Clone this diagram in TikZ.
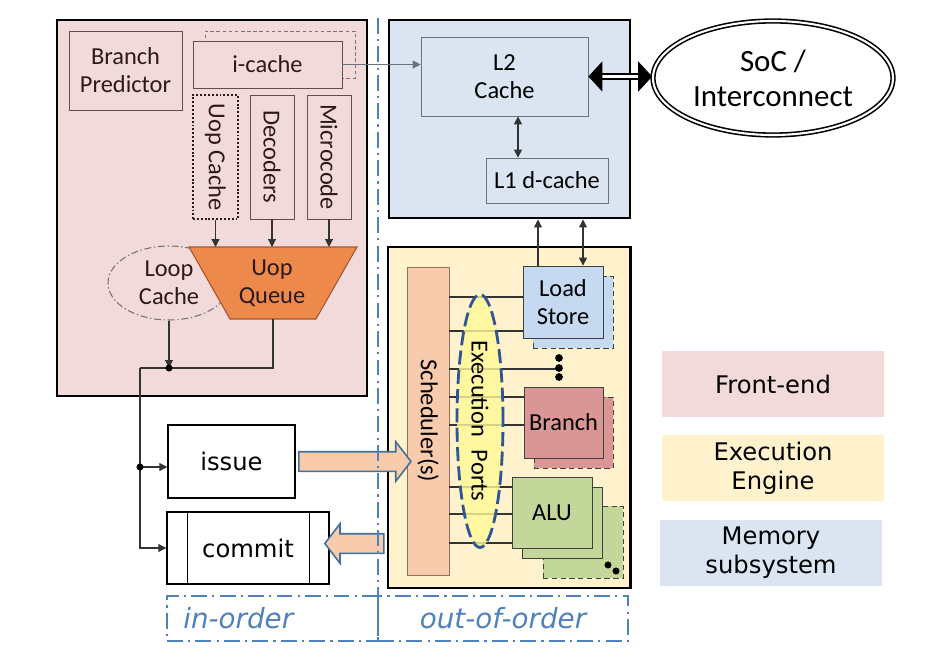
\documentclass[tikz,border=0pt]{standalone}
\usepackage{fontspec}
\setmainfont{Carlito}
\newfontfamily\verd{DejaVu Sans}[ItalicFont={DejaVu Sans Oblique}]
\usepackage{graphicx}
\usepackage{tikz}
\usetikzlibrary{arrows.meta,shapes.geometric,shapes.arrows,calc}
\definecolor{FrontPink}{RGB}{242,218,218}
\definecolor{ExecYellow}{RGB}{255,242,204}
\definecolor{MemBlue}{RGB}{219,229,241}
\definecolor{QueueOrange}{RGB}{237,137,74}
\definecolor{QueueEdge}{RGB}{165,85,45}
\definecolor{SchedPeach}{RGB}{248,203,173}
\definecolor{SchedEdge}{RGB}{150,110,90}
\definecolor{PortYellow}{RGB}{255,250,150}
\definecolor{PortBlue}{RGB}{47,85,151}
\definecolor{LoadBlue}{RGB}{197,217,241}
\definecolor{BranchRed}{RGB}{218,150,148}
\definecolor{AluGreen}{RGB}{196,215,155}
\definecolor{OrderBlue}{RGB}{79,129,189}
\definecolor{FrontLine}{RGB}{105,75,75}
\definecolor{FrontText}{RGB}{45,25,25}
\definecolor{MemLine}{RGB}{105,115,128}
\definecolor{ArrowEdge}{RGB}{65,113,156}

\begin{document}
\begin{tikzpicture}[x=0.02cm,y=-0.02cm,>={Triangle[length=4.5pt,width=4.5pt]},
  wh/.style 2 args={minimum width=#1*0.02cm,minimum height=#2*0.02cm},
  ftext/.style={font=\fontsize{13.9}{15.9}\selectfont},
  vtext/.style={font=\verd\fontsize{13.8}{16.5}\selectfont},
  region/.style={draw=black,line width=1.7pt,inner sep=0pt},
  fbox/.style={draw=FrontLine,fill=FrontPink,align=center,inner sep=0pt,text=FrontText,ftext},
  mbox/.style={draw=MemLine,fill=MemBlue,align=center,inner sep=0pt,ftext},
  exunit/.style={draw=black!75,align=center,inner sep=0pt,ftext},
  backcopy/.style={exunit,dash pattern=on 3pt off 2pt},
  wire/.style={draw=black!80,line width=0.6pt},
  fat/.style={single arrow,draw=ArrowEdge,fill=SchedPeach,line width=0.9pt,inner xsep=0pt,inner ysep=0.18cm,
    single arrow head extend=0.2cm,single arrow tip angle=105},
  orderline/.style={draw=OrderBlue,line width=1pt,dash pattern=on 9pt off 3pt on 1.2pt off 3pt},
  ordertext/.style={text=OrderBlue,font=\verd\itshape\fontsize{15.8}{18}\selectfont},
  leg/.style={align=center,inner sep=0pt,vtext}]
  \useasboundingbox (0,0) rectangle (930,669);

  \node[region,fill=FrontPink,wh={310}{376}] (fe) at (212,208) {};
  \node[region,fill=MemBlue,wh={241}{198}] (mem) at (509.5,119) {};
  \node[region,fill=ExecYellow,wh={242}{341}] (exe) at (509,417.5) {};

  \node[fbox,wh={113}{79}] (bp) at (125.5,70.5) {Branch\\Predictor};
  \node[draw=FrontLine!80,dash pattern=on 2pt off 1.5pt,wh={150}{47}] (icshadow) at (280,54.5) {};
  \node[fbox,wh={149}{47}] (icache) at (267.5,64.5) {i-cache};
  \node[fbox,draw=FrontText,line width=1.1pt,dash pattern=on 1.1pt off 1.1pt,wh={45}{124}] (uopc) at (215.5,157) {\rotatebox{-90}{Uop Cache}};
  \node[fbox,wh={44}{124}] (dec) at (272,157) {\rotatebox{-90}{Decoders}};
  \node[fbox,wh={44}{124}] (mcode) at (329,157) {\rotatebox{-90}{Microcode}};

  \node[ellipse,draw=black!55,line width=0.6pt,dash pattern=on 4pt off 1.5pt on 0.8pt off 1.5pt,
    wh={122}{74},inner sep=0pt,align=center,text=FrontText,ftext] (loop) at (169,283) {Loop\\Cache};
  \coordinate (qa) at (189,247);
  \coordinate (qb) at (357,247);
  \coordinate (qc) at (316,319);
  \coordinate (qd) at (230,319);
  \draw[fill=QueueOrange,draw=QueueEdge,line width=0.6pt] (qa) -- (qb) -- (qc) -- (qd) -- cycle;
  \node[align=center,text=FrontText,ftext] (uopq) at (272,283) {Uop\\Queue};
  \foreach \src in {uopc,dec,mcode}
    \draw[wire,->] (\src.south) -- (\src.south |- qa);

  \node[draw,line width=0.8pt,wh={127}{73},vtext] (issue) at (231.5,461.5) {issue};
  \node[draw,line width=0.8pt,wh={162}{72},vtext] (commit) at (248,548) {commit};
  \draw[line width=0.8pt] ([xshift=0.42cm]commit.north west) -- ([xshift=0.42cm]commit.south west);
  \draw[line width=0.8pt] ([xshift=-0.4cm]commit.north east) -- ([xshift=-0.4cm]commit.south east);

  \coordinate (qbot) at ($(qd)!0.5!(qc)$);
  \coordinate (trunk) at (140,368);
  \coordinate (j1) at (169,368);
  \coordinate (tap) at (140,467);
  \draw[wire,->] (loop.south) -- (j1);
  \draw[wire] (qbot) |- (trunk);
  \draw[wire,->] (trunk) |- (commit.west);
  \draw[wire,->] (tap) -- (issue.west |- tap);
  \fill (j1) circle (2pt);
  \fill (tap) circle (2pt);

  \node[draw=SchedEdge,fill=SchedPeach,wh={42}{308},inner sep=0pt,ftext] (sched) at (428,421) {\rotatebox{-90}{Scheduler(s)}};
  \node[backcopy,fill=LoadBlue,wh={80}{72}] (lsback) at (573,312) {};
  \node[exunit,fill=LoadBlue,wh={80}{72}] (ls) at (563,302) {Load\\Store};
  \node[backcopy,fill=BranchRed,wh={79}{71}] (brback) at (573.5,432.5) {};
  \node[exunit,fill=BranchRed,wh={79}{71}] (br) at (563.5,422.5) {Branch};
  \node[backcopy,fill=AluGreen,wh={80}{72}] (aluback) at (583,542) {};
  \node[exunit,fill=AluGreen,wh={80}{71}] (alumid) at (562,522.5) {};
  \node[exunit,fill=AluGreen,wh={80}{71}] (alu) at (552,512.5) {ALU};
  \fill (608,565) circle (2pt) (616,571) circle (2pt);

  \coordinate (dots) at (556,369);
  \foreach \y/\dst in {297/ls,331/ls,397/br,425/br,487/alu,514/alu,543/alu}
    \draw[wire] (sched.east |- 0,\y) -- (\dst.west |- 0,\y);
  \draw[wire] (sched.east |- dots) -- (dots);
  \foreach \y in {358,368,377}
    \fill (559,\y) circle (2.2pt);
  \node[ellipse,draw=PortBlue,fill=PortYellow,fill opacity=0.8,text opacity=1,line width=1.6pt,
    dash pattern=on 8pt off 3pt,wh={46}{253},inner sep=0pt,ftext] (ports) at (480,421)
    {\rotatebox{-90}{Execution\hspace{0.3em} Ports}};

  \node[mbox,wh={167}{79}] (l2) at (504.5,76.5) {L2\\Cache};
  \node[mbox,wh={122}{45}] (l1) at (547,180.5) {L1 d-cache};
  \draw[wire,<->] (l2.south -| 518,0) -- (l1.north -| 518,0);
  \draw[wire,->] (ls.north -| 538,0) -- (mem.south -| 538,0);
  \draw[wire,<->] (ls.north -| 583,0) -- (mem.south -| 583,0);
  \draw[draw=MemLine,line width=0.6pt,->] (icache.east) -- (l2.west |- icache.east);

  \node[ellipse,draw,double,double distance=1.2pt,line width=0.9pt,wh={240}{114},inner sep=0pt,
    align=center,font=\fontsize{17.6}{19.9}\selectfont] (soc) at (773,78) {SoC /\\Interconnect};
  \draw[double,double distance=2.2pt,line width=0.8pt,
    {Triangle[length=0.28cm,width=0.6cm]}-{Triangle[length=0.28cm,width=0.6cm]}]
    (l2.east) -- (l2.east -| soc.west);

  \node[fat,minimum height=112*0.02cm] (toexec) at ($(issue.east)!0.5!(sched.west |- issue.east)$) {};
  \node[fat,shape border rotate=180,minimum height=59*0.02cm,yshift=0.09cm] (tocommit)
    at ($(commit.east)!0.5!(exe.west |- commit.east)$) {};

  \node[orderline,wh={211}{45}] (inord) at (272.5,618.5) {};
  \node[ordertext,anchor=west] (inordtxt) at ([xshift=0.22cm]inord.west) {in-order};
  \node[orderline,wh={250}{45},ordertext] (outord) at (503,618.5) {out-of-order};
  \coordinate (divtop) at (378,18);
  \coordinate (divbot) at (378,641);
  \draw[orderline] (divtop) -- (divbot);

  \node[leg,fill=FrontPink,wh={222}{66}] (legfe) at (773,384) {Front-end};
  \node[leg,fill=ExecYellow,wh={222}{66}] (legex) at (773,468) {Execution\\Engine};
  \node[leg,fill=MemBlue,wh={222}{66}] (legmem) at (771,553) {Memory\\subsystem};
\end{tikzpicture}
\end{document}
